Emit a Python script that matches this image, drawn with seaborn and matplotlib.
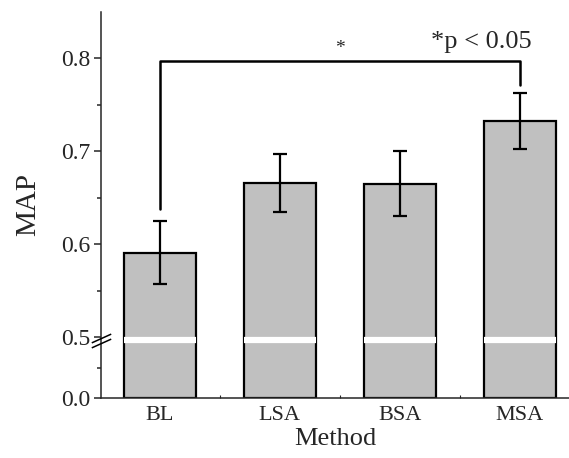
import numpy as np
import seaborn as sns
import matplotlib
matplotlib.use('Agg')
import matplotlib.pyplot as plt
import matplotlib.transforms as mtransforms

# data
methods = ['BL', 'LSA', 'BSA', 'MSA']
map_vals = [0.591, 0.666, 0.665, 0.733]
map_err = [0.034, 0.031, 0.035, 0.030]
y_major = [0.0, 0.5, 0.6, 0.7, 0.8]
y_minor = [0.25, 0.55, 0.65, 0.75]

sns.set_style('ticks')
plt.rcParams['font.family'] = ['Liberation Serif', 'DejaVu Serif']

# broken axis: 0-0.5 is squeezed
k = 0.131
def fwd(y):
    y = np.asarray(y, dtype=float)
    return np.where(y <= 0.5, y * k, 0.5 * k + (y - 0.5))
def inv(t):
    t = np.asarray(t, dtype=float)
    return np.where(t <= 0.5 * k, t / k, (t - 0.5 * k) + 0.5)

fig = plt.figure(figsize=(5.69, 4.58), dpi=100)
ax = fig.add_axes([0.1775, 0.131, 0.8225, 0.843])

sns.barplot(x=methods, y=map_vals, color='#c0c0c0', edgecolor='black',
            linewidth=1.6, width=0.6, errorbar=None, saturation=1, ax=ax)
ax.set_yscale('function', functions=(fwd, inv))
ax.errorbar(range(len(methods)), map_vals, yerr=map_err, fmt='none',
            ecolor='black', elinewidth=1.6, capsize=4.8, capthick=1.6, zorder=5)

ax.set_ylim(0, 0.85)
ax.set_xlim(-0.49, 3.41)
ax.set_yticks(y_major)
ax.set_yticklabels(['0.0', '0.5', '0.6', '0.7', '0.8'])
ax.set_yticks(y_minor, minor=True)
ax.set_xticks([0.5, 1.5, 2.5], minor=True)
ax.tick_params(axis='y', which='major', direction='out', length=5, width=1.1, labelsize=17, pad=3)
ax.tick_params(axis='y', which='minor', direction='out', length=3, width=1.1)
ax.tick_params(axis='x', which='major', length=0, labelsize=16, pad=6)
ax.tick_params(axis='x', which='minor', direction='in', length=2, width=0.8)
sns.despine(ax=ax)
for s in ['left', 'bottom']:
    ax.spines[s].set_linewidth(1.1)

ax.set_xlabel('Method', fontsize=19, labelpad=2)
ax.set_ylabel('MAP', fontsize=21, labelpad=14)

# white gap across bars at the break
for p in ax.patches:
    ax.plot([p.get_x(), p.get_x() + p.get_width()], [0.476, 0.476],
            color='white', lw=4.5, solid_capstyle='butt', zorder=4)

# break marks on the y axis
trans = mtransforms.blended_transform_factory(ax.transAxes, ax.transData)
for yb in [0.497, 0.455]:
    ax.plot([0], [yb], transform=trans, marker=[(-1, -0.45), (1, 0.45)],
            markersize=14, markeredgewidth=1.1, color='black', clip_on=False, zorder=6)

# significance bracket
yb = 0.797
ax.plot([0, 0, 3, 3], [0.638, yb, yb, 0.771], color='black', lw=1.8, zorder=5)
ax.text(1.5, yb + 0.004, '*', ha='center', va='bottom', fontsize=14)
ax.text(2.68, 0.806, '*p < 0.05', ha='center', va='bottom', fontsize=19)

fig.savefig('out.png', dpi=100)
